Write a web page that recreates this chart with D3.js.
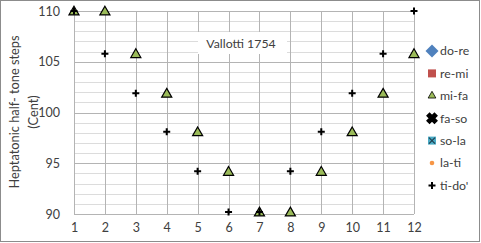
<!DOCTYPE html>
<html>
<head>
<meta charset="utf-8">
<script src="https://cdn.jsdelivr.net/npm/d3@7/dist/d3.min.js"></script>
<style>
  body { margin: 0; background: #fff; }
  text { font-family: Lato, "Open Sans", sans-serif; fill: #404040; }
</style>
</head>
<body>
<div id="chart"></div>
<script>
  const w = 481;
  const h = 243;

  // half-tone step index
  const steps = [1, 2, 3, 4, 5, 6, 7, 8, 9, 10, 11, 12];
  // whole-tone series lie far above the 90..110 cent range, nothing to plot
  const doRe = [];
  const reMi = [];
  const faSo = [];
  const soLa = [];
  const laTi = [];
  const miFa = [110, 110, 105.8, 101.9, 98.1, 94.2, 90.2, 90.2, 94.2, 98.1, 101.9, 105.8];
  const tiDo = [110, 105.8, 101.9, 98.1, 94.2, 90.2, 90.2, 94.2, 98.1, 101.9, 105.8, 110];
  const yTicks = [90, 95, 100, 105, 110];
  const seriesNames = ['do-re', 're-mi', 'mi-fa', 'fa-so', 'so-la', 'la-ti', "ti-do'"];

  const x = d3.scaleLinear().domain([1, 12]).range([74, 414]);
  const y = d3.scaleLinear().domain([90, 110]).range([214, 11]);

  const svg = d3.select('#chart').append('svg')
      .attr('width', w)
      .attr('height', h);

  svg.append('rect')
      .attr('x', 0.5).attr('y', 0.5)
      .attr('width', w - 2).attr('height', h - 2)
      .style('fill', 'white')
      .style('stroke', '#8c8c8c');

  // minor horizontal grid, every cent
  svg.append('g').selectAll('line')
      .data(d3.range(91, 110).filter(v => v % 5))
    .enter().append('line')
      .attr('x1', x(1)).attr('x2', x(12))
      .attr('y1', d => Math.round(y(d)) + .5).attr('y2', d => Math.round(y(d)) + .5)
      .style('stroke', '#dcdcdc');

  // major horizontal grid
  svg.append('g').selectAll('line')
      .data(yTicks)
    .enter().append('line')
      .attr('x1', x(1)).attr('x2', x(12))
      .attr('y1', d => Math.round(y(d)) + .5).attr('y2', d => Math.round(y(d)) + .5)
      .style('stroke', '#b4b4b4');

  // vertical grid
  svg.append('g').selectAll('line')
      .data(steps)
    .enter().append('line')
      .attr('x1', d => Math.round(x(d)) + .5).attr('x2', d => Math.round(x(d)) + .5)
      .attr('y1', y(110)).attr('y2', y(90))
      .style('stroke', '#b4b4b4');

  // axes, no domain line
  const yAxis = svg.append('g')
      .attr('transform', 'translate(' + x(1) + ',0)')
      .call(d3.axisLeft(y).tickValues(yTicks).tickSize(0).tickPadding(14));
  const xAxis = svg.append('g')
      .attr('transform', 'translate(0,' + y(90) + ')')
      .call(d3.axisBottom(x).tickValues(steps).tickSize(0).tickPadding(9));
  [yAxis, xAxis].forEach(a => {
    a.select('.domain').remove();
    a.selectAll('text')
        .style('font-family', 'Lato, "Open Sans", sans-serif')
        .style('font-size', '12.5px')
        .style('fill', '#404040');
  });

  svg.append('text')
      .attr('transform', 'translate(19,' + 112 + ') rotate(-90)')
      .attr('text-anchor', 'middle')
      .style('font-size', '12.8px')
      .text('Heptatonic half- tone steps');
  svg.append('text')
      .attr('transform', 'translate(38,' + 112 + ') rotate(-90)')
      .attr('text-anchor', 'middle')
      .style('font-size', '12.8px')
      .text('(Cent)');

  // title box
  svg.append('rect')
      .attr('x', 198).attr('y', 32)
      .attr('width', 89).attr('height', 22)
      .style('fill', 'white');
  svg.append('text')
      .attr('x', 241).attr('y', 47.5)
      .attr('text-anchor', 'middle')
      .style('font-size', '12.3px')
      .text('Vallotti 1754');

  const triangle = d3.symbol().type(d3.symbolTriangle).size(44);
  const plus = 'M-3.5,0 H3.5 M0,-3.5 V3.5';

  const pts = (vals) => vals.map((v, i) => ({ s: steps[i], v }));

  svg.append('g').selectAll('path')
      .data(pts(miFa))
    .enter().append('path')
      .attr('transform', d => 'translate(' + x(d.s) + ',' + (y(d.v) + 1) + ')')
      .attr('d', triangle)
      .style('fill', '#9bbb59')
      .style('stroke', 'black')
      .style('stroke-width', 1.2);

  svg.append('g').selectAll('path')
      .data(pts(tiDo))
    .enter().append('path')
      .attr('transform', d => 'translate(' + x(d.s) + ',' + y(d.v) + ')')
      .attr('d', plus)
      .style('stroke', 'black')
      .style('stroke-width', 2);

  // legend
  const legendMarkers = [
    g => g.append('path').attr('d', 'M0,-6.5 L6.5,0 L0,6.5 L-6.5,0 Z')
          .style('fill', '#4f81bd'),
    g => g.append('rect').attr('x', -4).attr('y', -4).attr('width', 8).attr('height', 8)
          .style('fill', '#c0504d'),
    g => g.append('path').attr('d', d3.symbol().type(d3.symbolTriangle).size(26))
          .style('fill', '#9bbb59').style('stroke', 'black').style('stroke-width', 0.8),
    g => g.append('path').attr('d', d3.symbol().type(d3.symbolCross).size(60))
          .attr('transform', 'rotate(45)')
          .style('fill', 'black').style('stroke', 'black').style('stroke-width', 1.5),
    g => {
      g.append('rect').attr('x', -4).attr('y', -4).attr('width', 8).attr('height', 8)
          .style('fill', '#4bacc6');
      g.append('path').attr('d', 'M-3,-3 L3,3 M3,-3 L-3,3').style('stroke', '#1f3f4f').style('stroke-width', 1.2);
    },
    g => g.append('circle').attr('r', 2.3).style('fill', '#f79646'),
    g => g.append('path').attr('d', 'M-3.5,0 H3.5 M0,-3.5 V3.5')
          .style('stroke', 'black').style('stroke-width', 2)
  ];

  const legend = svg.append('g').selectAll('g')
      .data(seriesNames)
    .enter().append('g')
      .attr('transform', (d, i) => 'translate(432,' + (51 + i * 22.4) + ')');

  legend.each(function(d, i) { legendMarkers[i](d3.select(this)); });

  legend.append('text')
      .attr('x', 8)
      .attr('dy', '.36em')
      .style('font-size', '12.3px')
      .text(d => d);
</script>
</body>
</html>
